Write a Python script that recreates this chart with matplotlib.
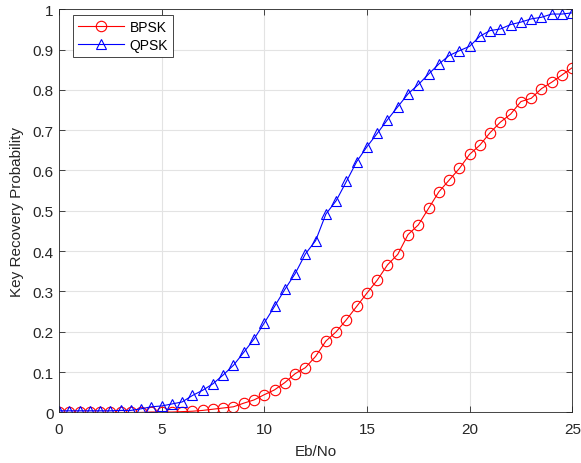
import matplotlib
matplotlib.use('Agg')
import matplotlib.pyplot as plt
import numpy as np

plt.rcParams['font.family'] = ['Liberation Sans', 'DejaVu Sans']

ebno = np.arange(0, 25.5, 0.5)

bpsk = [0, 0, 0, 0, 0, 0, 0, 0, 0, 0.001,
        0.001, 0.001, 0.002, 0.003, 0.005, 0.008, 0.011, 0.014, 0.023, 0.031,
        0.044, 0.056, 0.074, 0.096, 0.111, 0.139, 0.177, 0.200, 0.230, 0.263,
        0.296, 0.328, 0.366, 0.392, 0.441, 0.465, 0.506, 0.547, 0.576, 0.605,
        0.640, 0.663, 0.694, 0.720, 0.740, 0.771, 0.779, 0.803, 0.819, 0.837,
        0.855]

qpsk = [0.004, 0.004, 0.004, 0.004, 0.004, 0.004, 0.005, 0.005, 0.009, 0.014,
        0.016, 0.021, 0.026, 0.042, 0.055, 0.071, 0.093, 0.117, 0.149, 0.182,
        0.222, 0.263, 0.305, 0.344, 0.393, 0.426, 0.492, 0.525, 0.573, 0.622,
        0.659, 0.692, 0.726, 0.758, 0.790, 0.813, 0.839, 0.864, 0.885, 0.897,
        0.908, 0.933, 0.947, 0.951, 0.962, 0.968, 0.976, 0.980, 0.988, 0.988,
        0.991]

AX = '#262626'

fig = plt.figure(figsize=(5.81, 4.64), dpi=100)
ax = fig.add_axes([0.1015, 0.109, 0.8835, 0.869])

ax.plot(ebno, bpsk, color='#ff0000', lw=0.8, marker='o', ms=7.5, mfc='none',
        mew=0.8, label='BPSK')
ax.plot(ebno, qpsk, color='#0000ff', lw=0.8, marker='^', ms=7.5, mfc='none',
        mew=0.8, label='QPSK')

ax.set_xlim(0, 25)
ax.set_ylim(0, 1)
ax.set_xticks(np.arange(0, 26, 5))
ax.set_yticks(np.arange(0, 1.01, 0.1))
ax.set_yticklabels(['0', '0.1', '0.2', '0.3', '0.4', '0.5', '0.6', '0.7', '0.8', '0.9', '1'])
ax.grid(True, color='#e3e3e3', lw=0.8)
ax.set_axisbelow(True)
ax.tick_params(direction='in', length=4, width=0.6, top=True, right=True,
               labelsize=11, colors=AX)
ax.tick_params(axis='x', pad=7)
ax.tick_params(axis='y', pad=4)
for s in ax.spines.values():
    s.set_color(AX)
    s.set_linewidth(0.6)
ax.set_xlabel('Eb/No', fontsize=11, color=AX, labelpad=6)
ax.set_ylabel('Key Recovery Probability', fontsize=11, color=AX, labelpad=6)

leg = ax.legend(loc='upper left', bbox_to_anchor=(0.028, 0.985), fontsize=10,
                fancybox=False, framealpha=1, edgecolor=AX, handlelength=3.3,
                borderpad=0.35, labelspacing=0.3, handletextpad=0.4, borderaxespad=0)
leg.get_frame().set_linewidth(0.6)

fig.savefig('out.png', dpi=100)
